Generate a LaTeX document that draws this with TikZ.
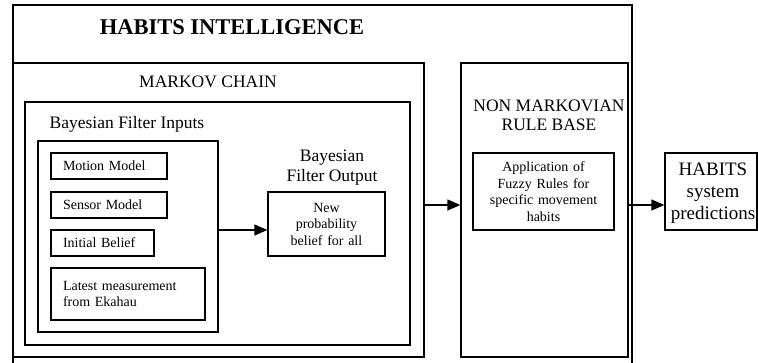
\documentclass[tikz,border=0pt]{standalone}
\usepackage{fontspec}
\setmainfont{Liberation Serif}
\usetikzlibrary{arrows.meta}
\tikzset{
  frame/.style={draw=black, line width=1.35pt, inner sep=0pt},
  leftbox/.style={draw=black, line width=1.35pt, inner xsep=12pt, inner ysep=0pt, align=left, font=\fontsize{14}{16.5}\selectfont},
  midbox/.style={draw=black, line width=1.35pt, inner sep=2pt, align=center, font=\fontsize{14}{16.5}\selectfont},
  title/.style={align=center, inner sep=0pt, font=\fontsize{17.5}{20}\selectfont},
  arr/.style={line width=1.35pt, -{Triangle[length=13pt,width=11pt]}}
}
\begin{document}
\begin{tikzpicture}[x=1pt,y=-1pt]
\useasboundingbox (0,0) rectangle (758,362);
\clip (0,0) rectangle (758,362);
% outer box
\node[frame, minimum width=619pt, minimum height=380pt] (outer) at (322.5,195) {};
\node[inner sep=0pt, font=\fontsize{22.5}{26}\selectfont\bfseries] (maintitle) at (232,27) {HABITS INTELLIGENCE};
% Markov chain
\node[frame, minimum width=411pt, minimum height=294pt] (markov) at (218.5,210) {};
\node[title] (markovt) at (208,82) {MARKOV CHAIN};
% Bayesian filter
\node[frame, minimum width=385pt, minimum height=243pt] (bayes) at (217.5,223.5) {};
\node[title] (inputst) at (127,124) {Bayesian Filter Inputs};
\node[frame, minimum width=180pt, minimum height=191pt] (inputs) at (128,236.5) {};
\node[leftbox, text width=92pt, minimum height=26pt] (motion) at (109,166) {Motion Model};
\node[leftbox, text width=92pt, minimum height=26pt] (sensor) at (109,205) {Sensor Model};
\node[leftbox, text width=79pt, minimum height=26pt] (initial) at (102.5,243) {Initial Belief};
\node[leftbox, text width=130pt, minimum height=52pt] (latest) at (128,294) {Latest measurement\\from Ekahau};
\node[title] (outputt) at (332,168) {Bayesian\\Filter Output};
\node[midbox, text width=100pt, minimum width=117pt, minimum height=64pt] (newprob) at (326.5,224) {New\\probability\\belief for all};
\coordinate (ay1) at (0,230);
\draw[arr] (inputs.east |- ay1) -- (newprob.west |- ay1);
% Non Markovian
\node[frame, minimum width=167pt, minimum height=294pt] (nonmark) at (544.5,210) {};
\node[title, font=\fontsize{17.5}{19}\selectfont] (nonmarkt) at (549,115) {NON MARKOVIAN\\RULE BASE};
\node[midbox, text width=137pt, minimum height=77pt] (fuzzy) at (543.5,191.5) {Application of\\Fuzzy Rules for\\specific movement\\habits};
% HABITS box
\node[draw=black, line width=1.35pt, inner sep=0pt, minimum width=92pt, minimum height=77pt] (habits) at (711,191.5) {};
\node[align=center, inner sep=0pt, font=\fontsize{19}{22}\selectfont] (habitst) at (713,193) {HABITS\\system\\predictions};
\coordinate (ay2) at (0,205);
\draw[arr] (markov.east |- ay2) -- (nonmark.west |- ay2);
\draw[arr] (nonmark.east |- ay2) -- (habits.west |- ay2);
\end{tikzpicture}
\end{document}
